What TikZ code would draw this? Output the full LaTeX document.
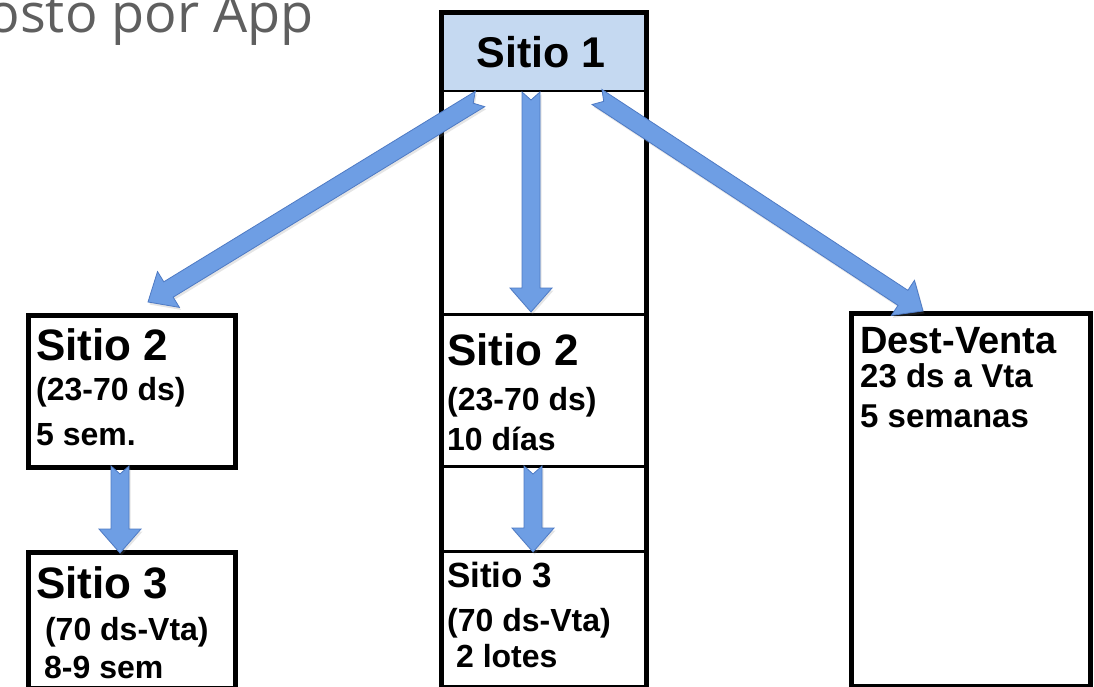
\documentclass[tikz,border=0pt]{standalone}
\usepackage{fontspec}
\setmainfont{Liberation Sans}
\newfontfamily\titlefont{Open Sans}
\usetikzlibrary{calc,shadows}
\definecolor{arrowfill}{RGB}{110,158,228}
\definecolor{arrowline}{RGB}{78,122,196}
\definecolor{headblue}{RGB}{197,217,241}
\definecolor{titlegray}{RGB}{95,95,95}
\newcommand\blockarrow[2]{%
  \filldraw[arrowstyle]
    ($(#1)!9pt!90:(#2)$) -- ($(#2)!24pt!(#1)!9pt!-90:(#1)$) --
    ($(#2)!24pt!(#1)!21pt!-90:(#1)$) -- (#2) --
    ($(#2)!24pt!(#1)!21pt!90:(#1)$) -- ($(#2)!24pt!(#1)!9pt!90:(#1)$) --
    ($(#1)!9pt!-90:(#2)$) -- ($(#1)!8pt!(#2)$) -- cycle;}
\tikzset{
  arrowstyle/.style={fill=arrowfill, draw=arrowline, line width=0.8pt, line join=miter,
    drop shadow={opacity=0.2, shadow xshift=1.5pt, shadow yshift=-2.5pt}},
  thickbox/.style={draw=black, line width=5pt, rectangle, inner sep=0pt, anchor=north west},
  cellbox/.style={draw=black, line width=2.5pt, rectangle, inner sep=0pt, anchor=north west},
  big/.style={font=\bfseries\fontsize{44}{44}\selectfont, inner sep=0pt, anchor=base west},
  mid/.style={font=\bfseries\fontsize{35}{35}\selectfont, inner sep=0pt, anchor=base west},
  dvt/.style={font=\bfseries\fontsize{38}{38}\selectfont, inner sep=0pt, anchor=base west},
  small/.style={font=\bfseries\fontsize{32}{32}\selectfont, inner sep=0pt, anchor=base west},
  smaller/.style={font=\bfseries\fontsize{33}{33}\selectfont, inner sep=0pt, anchor=base west},
}
\begin{document}
\begin{tikzpicture}[x=1pt, y=-1pt]
\useasboundingbox (0,0) rectangle (1094,687);
\clip (0,0) rectangle (1094,687);
\fill[white] (0,0) rectangle (1094,687);

% title
\node[font=\titlefont\fontsize{54}{54}\selectfont, text=titlegray, inner sep=0pt, anchor=base east] (title) at (314,33) {osto por App};

% central column
\node[cellbox, fill=headblue, minimum width=205pt, minimum height=79.5pt] (s1) at (439,10.5) {};
\node[cellbox, minimum width=205pt, minimum height=152pt] (c2) at (439,313) {};
\node[cellbox, minimum width=205pt, minimum height=140pt] (c3) at (439,550) {};
\node[thickbox, minimum width=205pt, minimum height=674.5pt] (col) at (439,10.5) {};

% left boxes
\node[thickbox, minimum width=207pt, minimum height=152pt] (l2) at (25.5,312.5) {};
\node[thickbox, minimum width=207pt, minimum height=136pt] (l3) at (25.5,549.5) {};

% right box
\node[thickbox, minimum width=239pt, minimum height=373pt] (dv) at (849,310.5) {};

% texts
\node[font=\bfseries\fontsize{43}{43}\selectfont, inner sep=0pt, anchor=base] (t1) at (541,68) {Sitio 1};

\node[big] (c2a) at (447,365) {Sitio 2};
\node[small] (c2b) at (447,410) {(23-70 ds)};
\node[small] (c2c) at (447,450) {10 días};
\node[mid] (c3a) at (447,587) {Sitio 3};
\node[small] (c3b) at (447,631) {(70 ds-Vta)};
\node[small] (c3c) at (447,667) {\ 2 lotes};

\node[big] (l2a) at (36,360) {Sitio 2};
\node[small] (l2b) at (36,400) {(23-70 ds)};
\node[small] (l2c) at (36,445) {5 sem.};
\node[big] (l3a) at (36,598) {Sitio 3};
\node[small] (l3b) at (36,640) {\ (70 ds-Vta)};
\node[small] (l3c) at (44,678) {8-9 sem};

\node[dvt] (dva) at (860,353) {Dest-Venta};
\node[smaller] (dvb) at (860,387) {23 ds a Vta};
\node[smaller] (dvc) at (860,427) {5 semanas};

% arrow end points
\coordinate (a1s) at (480,99);
\coordinate (a1e) at (148,302);
\coordinate (a2s) at (531,92);
\coordinate (a2e) at (531,312);
\coordinate (a3s) at (597,97);
\coordinate (a3e) at (923,311);
\coordinate (a4s) at (120,466);
\coordinate (a4e) at (120,553);
\coordinate (a5s) at (533,466);
\coordinate (a5e) at (533,552);

\blockarrow{a1s}{a1e}
\blockarrow{a2s}{a2e}
\blockarrow{a3s}{a3e}
\blockarrow{a4s}{a4e}
\blockarrow{a5s}{a5e}
\end{tikzpicture}
\end{document}
